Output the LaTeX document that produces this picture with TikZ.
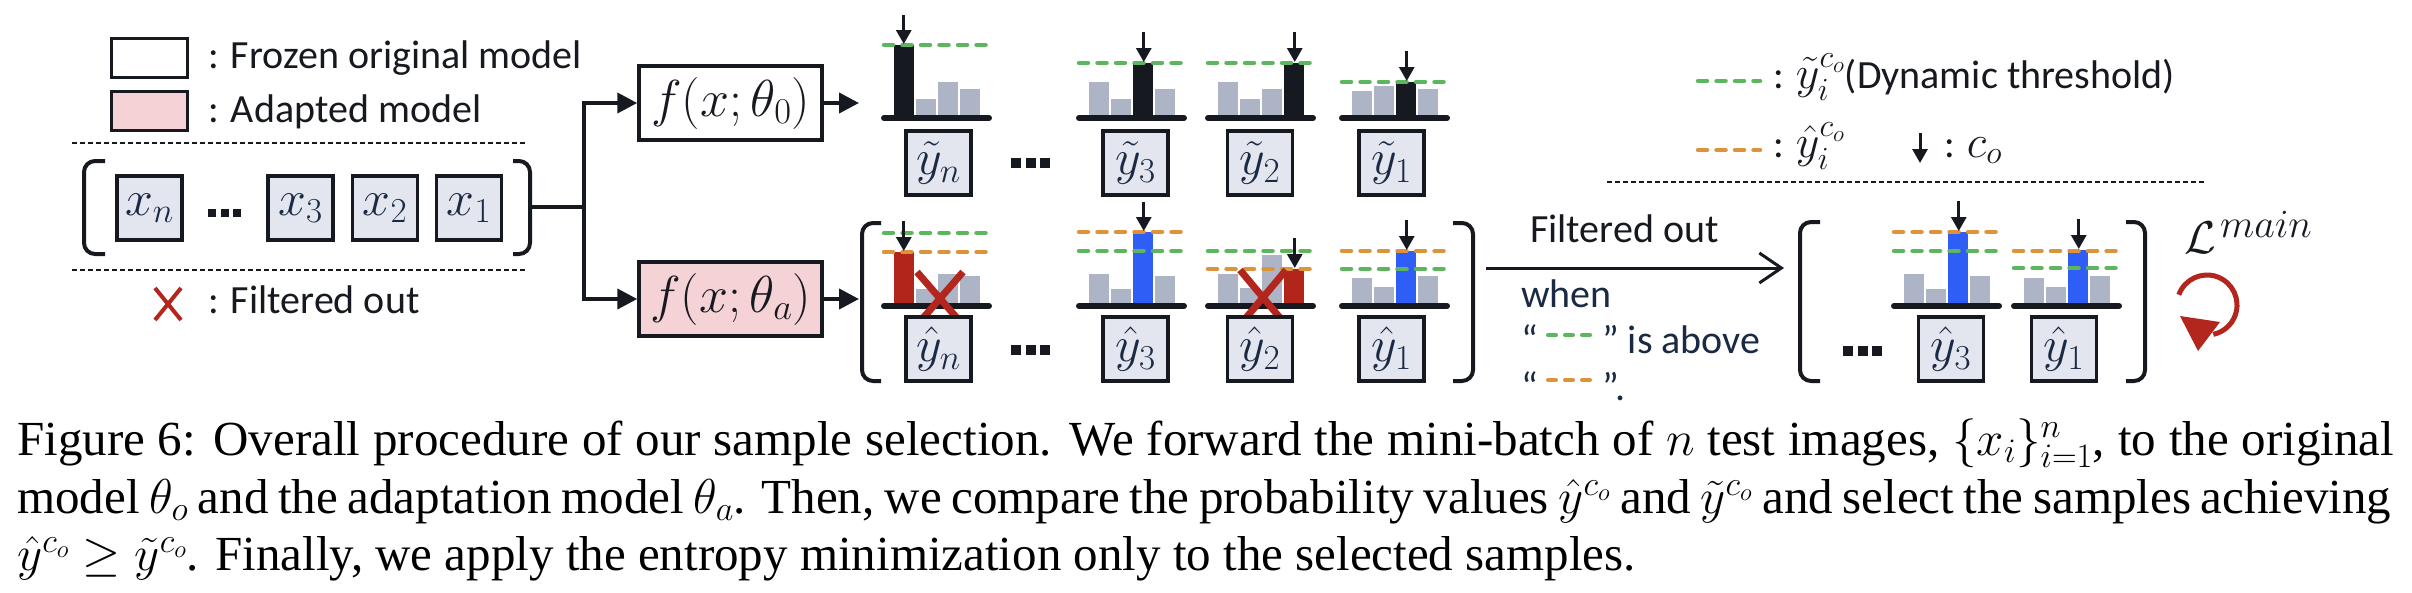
\RequirePackage{fix-cm}
\documentclass[tikz,border=0pt]{standalone}
\usepackage{amsmath,amssymb}
\usepackage{fontspec}
\setmainfont{Liberation Serif}
\newfontfamily\calib{Carlito}
\usetikzlibrary{arrows.meta}
\definecolor{dk}{HTML}{16191F}
\definecolor{boxfill}{HTML}{E3E6EF}
\definecolor{barg}{HTML}{ADB4C6}
\definecolor{barr}{HTML}{B1251A}
\definecolor{barb}{HTML}{2F5EF6}
\definecolor{grn}{HTML}{5CB65E}
\definecolor{org}{HTML}{DD923C}
\definecolor{pinkf}{HTML}{F4D2D5}
\definecolor{navy}{HTML}{1A2A44}
\definecolor{redx}{HTML}{B3261E}
\tikzset{
  legbox/.style={draw=dk,line width=3pt,minimum width=76pt,minimum height=39pt,inner sep=0pt},
  xbox/.style={draw=dk,line width=3.5pt,fill=boxfill,minimum width=65pt,minimum height=64pt,inner sep=0pt,text=navy,font=\fontsize{50}{50}\selectfont},
  fnbox/.style={draw=dk,line width=3.5pt,minimum width=183pt,minimum height=74pt,inner sep=0pt,text=dk,font=\fontsize{52}{52}\selectfont},
  conn/.style={draw=dk,line width=4pt,-{Triangle[length=20pt,width=20pt]}},
  lbl/.style={anchor=base west,inner sep=0pt,font=\calib\fontsize{40}{48}\selectfont,text=dk},
  nlbl/.style={lbl,text=navy},
  thindash/.style={draw=dk,line width=1.5pt,dash pattern=on 5pt off 3pt},
  brk/.style={draw=dk,line width=4pt,rounded corners=11pt},
  thrg/.style={draw=grn,line width=4.5pt,line cap=round,dash pattern=on 9pt off 9.5pt},
  thro/.style={draw=org,line width=4.5pt,line cap=round,dash pattern=on 9pt off 9.5pt},
  baseln/.style={draw=dk,line width=6pt,line cap=round},
  darr/.style={draw=dk,line width=3pt,-{Triangle[length=14pt,width=15pt]}},
  redcross/.style={draw=redx,line width=7pt},
  capt/.style={anchor=base west,inner sep=0pt,font=\fontsize{49}{57}\selectfont}
}
\newcommand\drawhist[3]{%
  \foreach \t/\c [count=\i from 0] in {#3} {\fill[\c] ({#1+10+22*\i},\t) rectangle ({#1+29.5+22*\i},#2);}
}
\newcommand\hbase[2]{\draw[baseln] (#1,#2) -- ({#1+105},#2);}
\newcommand\threedots[3]{%
  \foreach \k in {0,1,2} {\fill[dk] ({#1+\k*(#3+4.5)},{#2-#3/2}) rectangle ({#1+\k*(#3+4.5)+#3},{#2+#3/2});}
}
\begin{document}
\begin{tikzpicture}[x=1pt,y=-1pt]
\useasboundingbox (0,0) rectangle (2412,592);

% ---------- left legend ----------
\node[legbox,fill=white] (lw) at (149,57.5) {};
\node[legbox,fill=pinkf] (lp) at (149,110.5) {};
\node[lbl] (lt1) at (208,68) {: Frozen original model};
\node[lbl] (lt2) at (208,122) {: Adapted model};
\draw[thindash] (72,143) -- (525,143);
\draw[thindash] (72,270) -- (525,270);
\draw[redx,line width=4pt] (155,288) -- (181,320) (181,288) -- (155,320);
\node[lbl] (lt3) at (208,313) {: Filtered out};

% ---------- input batch ----------
\draw[brk] (105,161) -- (84,161) -- (84,254) -- (105,254);
\draw[brk] (513,161) -- (530,161) -- (530,254) -- (513,254);
\node[xbox] (xn) at (149.5,208) {$x_n$};
\node[xbox] (x3) at (300.5,208) {$x_3$};
\node[xbox] (x2) at (385,208) {$x_2$};
\node[xbox] (x1) at (469,208) {$x_1$};
\threedots{208}{213}{8}

% ---------- models ----------
\coordinate (xbr) at (530,207);
\coordinate (tr) at (584,207);
\node[fnbox,fill=white] (f0) at (730.5,103) {$f(x;\theta_0)$};
\node[fnbox,fill=pinkf] (fa) at (730.5,299) {$f(x;\theta_a)$};
\draw[conn] (xbr) -- (tr) |- (f0.west);
\draw[conn] (tr) |- (fa.west);
\coordinate (o0) at (859,103);
\coordinate (oa) at (859,299);
\draw[conn] (f0.east) -- (o0);
\draw[conn] (fa.east) -- (oa);

% ---------- top row (original model) ----------
\drawhist{884}{118}{45/dk,99/barg,82/barg,89/barg}
\drawhist{1079}{118}{82/barg,99/barg,63/dk,89/barg}
\drawhist{1208}{118}{82/barg,99/barg,89/barg,63/dk}
\drawhist{1342}{118}{91/barg,86/barg,82/dk,89/barg}
\draw[thrg] (884,45) -- ++(105,0);
\draw[thrg] (1079,63) -- ++(105,0);
\draw[thrg] (1208,63) -- ++(105,0);
\draw[thrg] (1342,82) -- ++(105,0);
\hbase{884}{118}\hbase{1079}{118}\hbase{1208}{118}\hbase{1342}{118}
\draw[darr] (903.75,15) -- (903.75,44);
\draw[darr] (1143.75,32) -- (1143.75,62);
\draw[darr] (1294.75,32) -- (1294.75,62);
\draw[darr] (1406.75,51) -- (1406.75,81);
\node[xbox] (tn) at (938.5,163) {$\tilde{y}_n$};
\node[xbox] (t3) at (1135.5,163) {$\tilde{y}_3$};
\node[xbox] (t2) at (1260,163) {$\tilde{y}_2$};
\node[xbox] (t1) at (1391.5,163) {$\tilde{y}_1$};
\threedots{1011}{163}{10}

% ---------- bottom row (adapted model) ----------
\draw[brk] (881,223) -- (862,223) -- (862,381) -- (881,381);
\draw[brk] (1453,223) -- (1473,223) -- (1473,381) -- (1453,381);
\drawhist{884}{306}{252/barr,289/barg,274/barg,276/barg}
\drawhist{1079}{306}{274/barg,289/barg,232/barb,276/barg}
\drawhist{1208}{306}{274/barg,288/barg,255/barg,269/barr}
\drawhist{1342}{306}{278/barg,287/barg,251/barb,276/barg}
\draw[thrg] (884,233) -- ++(105,0);
\draw[thro] (884,252) -- ++(105,0);
\draw[thro] (1079,232) -- ++(105,0);
\draw[thrg] (1079,251) -- ++(105,0);
\draw[thrg] (1208,251) -- ++(105,0);
\draw[thro] (1208,269) -- ++(105,0);
\draw[thro] (1342,251) -- ++(105,0);
\draw[thrg] (1342,269) -- ++(105,0);
\hbase{884}{306}\hbase{1079}{306}\hbase{1208}{306}\hbase{1342}{306}
\draw[darr] (903.75,221) -- (903.75,251);
\draw[darr] (1143.75,202) -- (1143.75,231);
\draw[darr] (1294.75,238) -- (1294.75,268);
\draw[darr] (1406.75,220) -- (1406.75,250);
\draw[redcross] (917,272) -- (963,325) (963,272) -- (917,325);
\draw[redcross] (1240,270) -- (1286,325) (1286,270) -- (1240,325);
\node[xbox] (hn) at (938.5,349) {$\hat{y}_n$};
\node[xbox] (h3) at (1135.5,349) {$\hat{y}_3$};
\node[xbox] (h2) at (1260,349) {$\hat{y}_2$};
\node[xbox] (h1) at (1391.5,349) {$\hat{y}_1$};
\threedots{1011}{350}{10}

% ---------- filtering arrow ----------
\coordinate (fa1) at (1486,268);
\coordinate (fa2) at (1784,268);
\draw[draw=dk,line width=3pt,-{Straight Barb[length=22pt,width=30pt,line width=3pt]}] (fa1) -- (fa2);
\node[lbl] (fo) at (1530,242) {Filtered out};
\node[nlbl] (wh) at (1521,307) {when};
\node[nlbl] (q1) at (1521,353) {“};
\draw[thrg,line width=4pt,dash pattern=on 8pt off 9pt] (1548,335) -- (1594,335);
\node[nlbl] (q2) at (1602,353) {” is above};
\node[nlbl] (q3) at (1521,400) {“};
\draw[thro,line width=4pt,dash pattern=on 8pt off 9pt] (1548,380) -- (1594,380);
\node[nlbl] (q4) at (1602,400) {”.};

% ---------- right legend ----------
\draw[thrg] (1698,81) -- (1760,81);
\node[lbl] (lg1) at (1773,88) {: {\fontsize{46}{46}\selectfont$\tilde{y}_i^{c_o}$}(Dynamic threshold)};
\draw[thro] (1698,150) -- (1760,150);
\node[lbl] (lg2) at (1773,157) {: {\fontsize{46}{46}\selectfont$\hat{y}_i^{c_o}$}};
\draw[darr] (1920,133) -- (1920,163);
\node[lbl] (lg3) at (1944,157) {: {\fontsize{46}{46}\selectfont$c_o$}};
\draw[thindash] (1607,182) -- (2204,182);

% ---------- selected samples ----------
\draw[brk] (1820,222) -- (1800,222) -- (1800,381) -- (1820,381);
\draw[brk] (2126,222) -- (2145,222) -- (2145,381) -- (2126,381);
\drawhist{1894}{306}{274/barg,289/barg,232/barb,276/barg}
\drawhist{2014}{306}{278/barg,287/barg,250/barb,276/barg}
\draw[thro] (1894,232) -- ++(105,0);
\draw[thrg] (1894,251) -- ++(105,0);
\draw[thro] (2014,251) -- ++(105,0);
\draw[thrg] (2014,268) -- ++(105,0);
\hbase{1894}{306}\hbase{2014}{306}
\draw[darr] (1958.75,201) -- (1958.75,231);
\draw[darr] (2078.75,219) -- (2078.75,249);
\node[xbox] (s3) at (1951,349) {$\hat{y}_3$};
\node[xbox] (s1) at (2064,349) {$\hat{y}_1$};
\threedots{1843}{351}{10}

% ---------- loss ----------
\node[anchor=base west,inner sep=0pt,text=dk,font=\fontsize{46}{46}\selectfont] (lossL) at (2184,253) {$\mathcal{L}$};
\node[anchor=base west,inner sep=0pt,text=dk,font=\fontsize{40}{40}\selectfont] (lossm) at (2220,237) {$main$};
\draw[redx,line width=5pt] (2207,305) ++(200:30) arc[start angle=200,end angle=438,radius=30];
\fill[redx] (2180,316) -- (2220,322) -- (2198,351) -- cycle;

% ---------- caption ----------
\node[capt] (c1) at (17,455) {\makebox[2377pt][s]{Figure 6: Overall procedure of our sample selection. We forward the mini-batch of $n$ test images, $\{x_i\}_{i=1}^n$, to the original}};
\node[capt] (c2) at (17,513) {\makebox[2374pt][s]{model $\theta_o$ and the adaptation model $\theta_a$. Then, we compare the probability values $\hat{y}^{c_o}$ and $\tilde{y}^{c_o}$ and select the samples achieving}};
\node[capt] (c3) at (17,570) {$\hat{y}^{c_o} \geq \tilde{y}^{c_o}$. Finally, we apply the entropy minimization only to the selected samples.};
\end{tikzpicture}
\end{document}
